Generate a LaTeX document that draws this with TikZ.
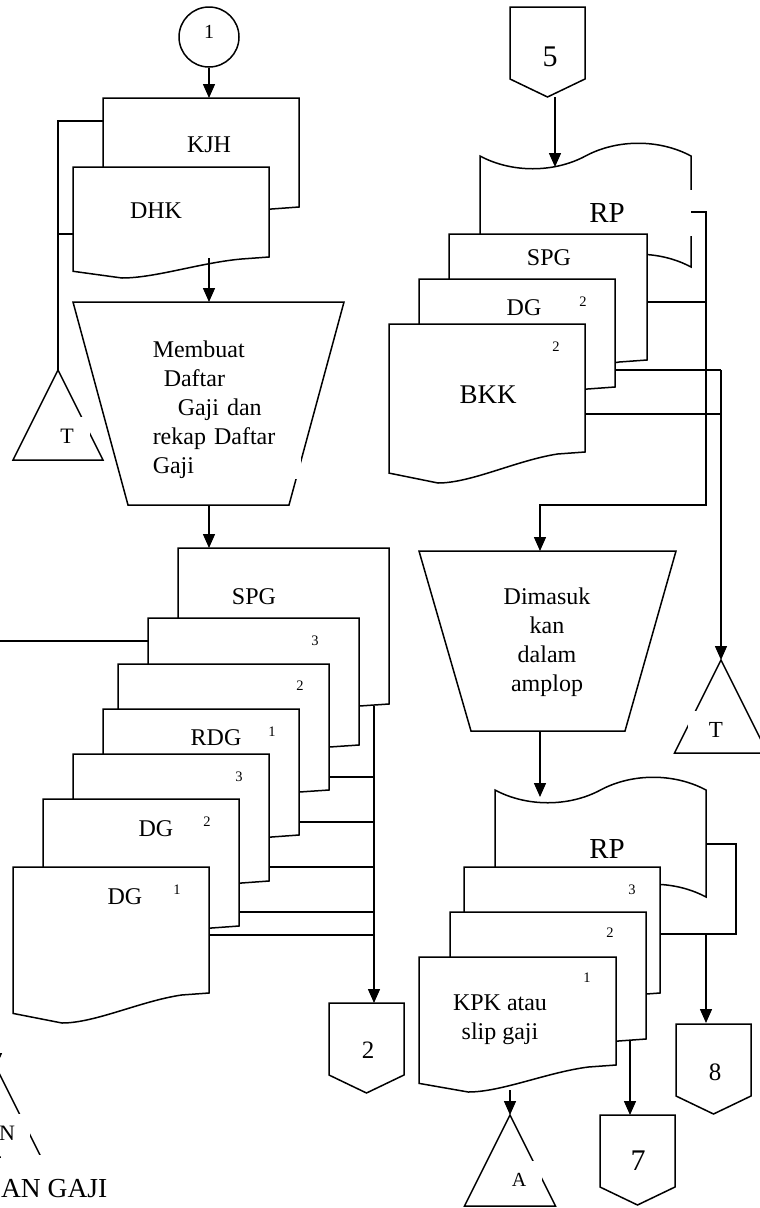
\documentclass[tikz,border=0pt]{standalone}
\usepackage{fontspec}
\setmainfont{Liberation Serif}
\usetikzlibrary{arrows.meta}

% document page, wavy bottom: left, top, right, bottom, dip
\newcommand{\docpage}[5]{%
  \pgfmathsetmacro{\docw}{#3-#1}%
  \filldraw[fill=white] (#1,#2) -- (#3,#2) -- (#3,#4) -- ({#3-0.14*\docw},{#4+2})
    .. controls ({#1+0.65*\docw},{#4+0.27*#5}) and ({#1+0.42*\docw},{#4+#5}) .. ({#1+0.25*\docw},{#4+#5})
    -- (#1,{#4+0.68*#5}) -- cycle;}
% tape, wavy top and bottom: left, top, right, height
\newcommand{\tapepage}[4]{%
  \pgfmathsetmacro{\tapew}{#3-#1}%
  \filldraw[fill=white] (#1,#2) .. controls ({#1+0.15*\tapew},{#2+17}) and ({#1+0.35*\tapew},{#2+17}) .. ({#1+0.5*\tapew},#2)
    .. controls ({#1+0.65*\tapew},{#2-17}) and ({#1+0.85*\tapew},{#2-17}) .. (#3,#2)
    -- (#3,{#2+#4})
    .. controls ({#1+0.85*\tapew},{#2+#4-17}) and ({#1+0.65*\tapew},{#2+#4-17}) .. ({#1+0.5*\tapew},{#2+#4})
    .. controls ({#1+0.35*\tapew},{#2+#4+17}) and ({#1+0.15*\tapew},{#2+#4+17}) .. (#1,{#2+#4}) -- cycle;}
% off-page connector: left, top
\newcommand{\offpage}[2]{%
  \filldraw[fill=white] (#1,#2) -- ({#1+75},#2) -- ({#1+75},{#2+72}) -- ({#1+37.5},{#2+90}) -- (#1,{#2+72}) -- cycle;}
% file triangle: apex, height
\newcommand{\filetri}[3]{%
  \draw (#1,#2) -- ({#1+0.5*#3},{#2+#3}) -- ({#1-0.5*#3},{#2+#3}) -- cycle;}

\begin{document}
\begin{tikzpicture}[x=1pt,y=-1pt,line width=1.5pt,
  flow/.style={-{Triangle[length=14pt,width=12pt]}},
  lbl/.style={font=\fontsize{24}{29}\selectfont},
  sup/.style={font=\fontsize{14.5}{16}\selectfont},
  txt/.style={font=\fontsize{24}{29}\selectfont,align=center},
  mask/.style={fill=white,inner sep=0pt,minimum width=46pt,minimum height=38pt,font=\fontsize{22}{26}\selectfont}]
\useasboundingbox (0,0) rectangle (760,1208);
\clip (0,0) rectangle (760,1208);

% ---- left column ----
\node[draw,circle,minimum size=60pt,inner sep=0pt] (c1) at (209,37) {};
\node[font=\fontsize{20}{24}\selectfont] (c1-lbl) at (209,32) {1};
\docpage{103}{98}{299}{207}{30}
\node[lbl] (kjh) at (209,145) {KJH};
\docpage{73}{167}{269}{257}{21}
\node[lbl] (dhk) at (156,211) {DHK};
\coordinate (kjh-top) at (209,98);
\coordinate (kjh-w) at (103,121);
\coordinate (dhk-w) at (73,234);
\coordinate (dhk-bot) at (209,258);
\draw[flow] (c1) -- (kjh-top);

% file T
\coordinate (tl-top) at (58,370);
\filetri{58}{370}{90}
\node[mask] (tl) at (67,436) {T};
\draw (kjh-w) -| (tl-top);
\draw (dhk-w) -- (dhk-w -| tl-top);

% manual process
\draw (73,302) -- (344,302) -- (289,505) -- (128,505) -- cycle;
\coordinate (p1-top) at (209,302);
\coordinate (p1-bot) at (209,505);
\node[font=\fontsize{24}{29}\selectfont,fill=white,anchor=north west,text width=146pt,
  inner xsep=2pt,inner ysep=0pt,align=left] (membuat) at (150,340)
  {Membuat\\\hspace*{11pt}Daftar\\\hspace*{25pt}Gaji dan\\rekap Daftar\\Gaji};
\draw[flow] (dhk-bot) -- (p1-top);
\coordinate (spg-top) at (209,548);
\draw[flow] (p1-bot) -- (spg-top);

% output stack
\foreach \xl/\yt/\xr/\yb in {178/548/389/704, 148/618/359/745, 118/664/329/790,
    103/709/299/835, 73/754/269/881, 43/799/239/926, 13/867/209/993}
  \docpage{\xl}{\yt}{\xr}{\yb}{30};
\node[lbl] (spg) at (254,597) {SPG};
\node[sup] (spg3) at (315,641) {3};
\node[sup] (spg2) at (300,686) {2};
\node[lbl] (rdg) at (216,738) {RDG};
\node[sup] (rdg1) at (272,732) {1};
\node[sup] (rdg3) at (239,777) {3};
\node[lbl] (dg2) at (156,829) {DG};
\node[sup] (dg2n) at (207,822) {2};
\node[lbl] (dg1) at (125,897) {DG};
\node[sup] (dg1n) at (177,890) {1};

\coordinate (d3a-w) at (148,641);
\coordinate (off-w) at (0,641);
\draw (d3a-w) -- (off-w);

\coordinate (bus-top) at (374,706);
\coordinate (c2-top) at (374,1003);
\foreach \xr/\yy [count=\i] in {329/777, 299/822, 269/867, 239/912, 209/935} {
  \coordinate (lout\i) at (\xr,\yy);
  \draw (lout\i) -- (lout\i -| bus-top);
}
\offpage{329}{1003}
\node[font=\fontsize{25}{30}\selectfont] (c2) at (368,1050) {2};
\draw[flow] (bus-top) -- (c2-top);

% cut-off part
\coordinate (tn-in) at (-4,1030);
\coordinate (tn-top) at (-4,1067);
\filetri{-4}{1067}{90}
\node[mask] (tn) at (7,1133) {N};
\draw[flow] (tn-in) -- (tn-top);
\node[font=\fontsize{27.5}{32}\selectfont,anchor=base east,inner sep=0pt,fill=white,
  text height=42pt] (title) at (108,1197) {AN GAJI};

% ---- right column ----
\offpage{510}{7}
\node[font=\fontsize{30}{36}\selectfont] (c5) at (550,57) {5};
\coordinate (c5-bot) at (555,97);
\coordinate (rp1-top) at (555,167);
\draw[flow] (c5-bot) -- (rp1-top);
\tapepage{480}{156}{691}{111}
\node[fill=white,inner sep=0pt,minimum width=170pt,minimum height=46pt,
  font=\fontsize{29}{34}\selectfont] (rp1) at (607,213) {RP};

\coordinate (rp1-e) at (691,212);
\coordinate (rbus-top) at (706,212);
\coordinate (rbus-bot) at (706,505);
\coordinate (p2-top) at (540,551);
\draw[flow] (rp1-e) -- (rbus-top) -- (rbus-bot) -| (p2-top);

\docpage{449}{234}{647}{360}{30}
\node[lbl] (spg-r) at (549,258) {SPG};
\docpage{419}{279}{615}{387}{30}
\node[lbl] (dg-r) at (524,308) {DG};
\node[sup] (dg-r2) at (583,302) {2};
\docpage{389}{324}{585}{452}{31}
\node[font=\fontsize{27}{32}\selectfont] (bkk) at (488,395) {BKK};
\node[sup] (bkk2) at (556,347) {2};

\coordinate (spg-r-e) at (647,302);
\coordinate (dg-r-e) at (615,370);
\coordinate (bkk-e) at (585,414);
\coordinate (tr-bus) at (721,370);
\coordinate (tr-top) at (721,660);
\draw (spg-r-e) -- (spg-r-e -| rbus-top);
\draw (dg-r-e) -- (tr-bus);
\draw (bkk-e) -- (bkk-e -| tr-bus);
\draw[flow] (tr-bus) -- (tr-top);
\filetri{721}{660}{93}
\node[mask,minimum width=56pt,font=\fontsize{23}{27}\selectfont] (tr) at (716,730) {T};

% manual process
\draw (419,551) -- (676,551) -- (625,731) -- (471,731) -- cycle;
\node[txt] (amplop) at (547,642) {Dimasuk\\kan\\dalam\\amplop};
\coordinate (p2-bot) at (540,731);
\coordinate (rp2-top) at (540,797);
\draw[flow] (p2-bot) -- (rp2-top);

\tapepage{495}{790}{706}{107}
\node[font=\fontsize{29}{34}\selectfont] (rp2) at (607,849) {RP};
\docpage{464}{867}{660}{993}{30}
\node[sup] (kpk3) at (632,890) {3};
\docpage{450}{912}{646}{1039}{30}
\node[sup] (kpk2) at (610,933) {2};
\docpage{419}{957}{616}{1065}{27}
\node[sup] (kpk1) at (587,978) {1};
\node[txt] (kpk) at (500,1020) {KPK atau\\slip gaji};

\coordinate (rp2-e) at (706,844);
\coordinate (loop) at (736,934);
\coordinate (d3c-e) at (660,934);
\draw (rp2-e) -| (loop) -- (d3c-e);
\coordinate (c8-in) at (706,934);
\coordinate (c8-top) at (706,1023);
\draw[flow] (c8-in) -- (c8-top);
\offpage{676}{1024}
\node[font=\fontsize{25}{30}\selectfont] (c8) at (715,1072) {8};

\coordinate (d2c-s) at (630,1040);
\coordinate (c7-top) at (630,1115);
\draw[flow] (d2c-s) -- (c7-top);
\offpage{600}{1115}
\node[font=\fontsize{30}{36}\selectfont] (c7) at (638,1161) {7};

\coordinate (kpk-s) at (510,1090);
\coordinate (ta-top) at (510,1115);
\draw[flow] (kpk-s) -- (ta-top);
\filetri{510}{1115}{91}
\node[mask,font=\fontsize{20}{24}\selectfont] (ta) at (519,1180) {A};
\end{tikzpicture}
\end{document}
